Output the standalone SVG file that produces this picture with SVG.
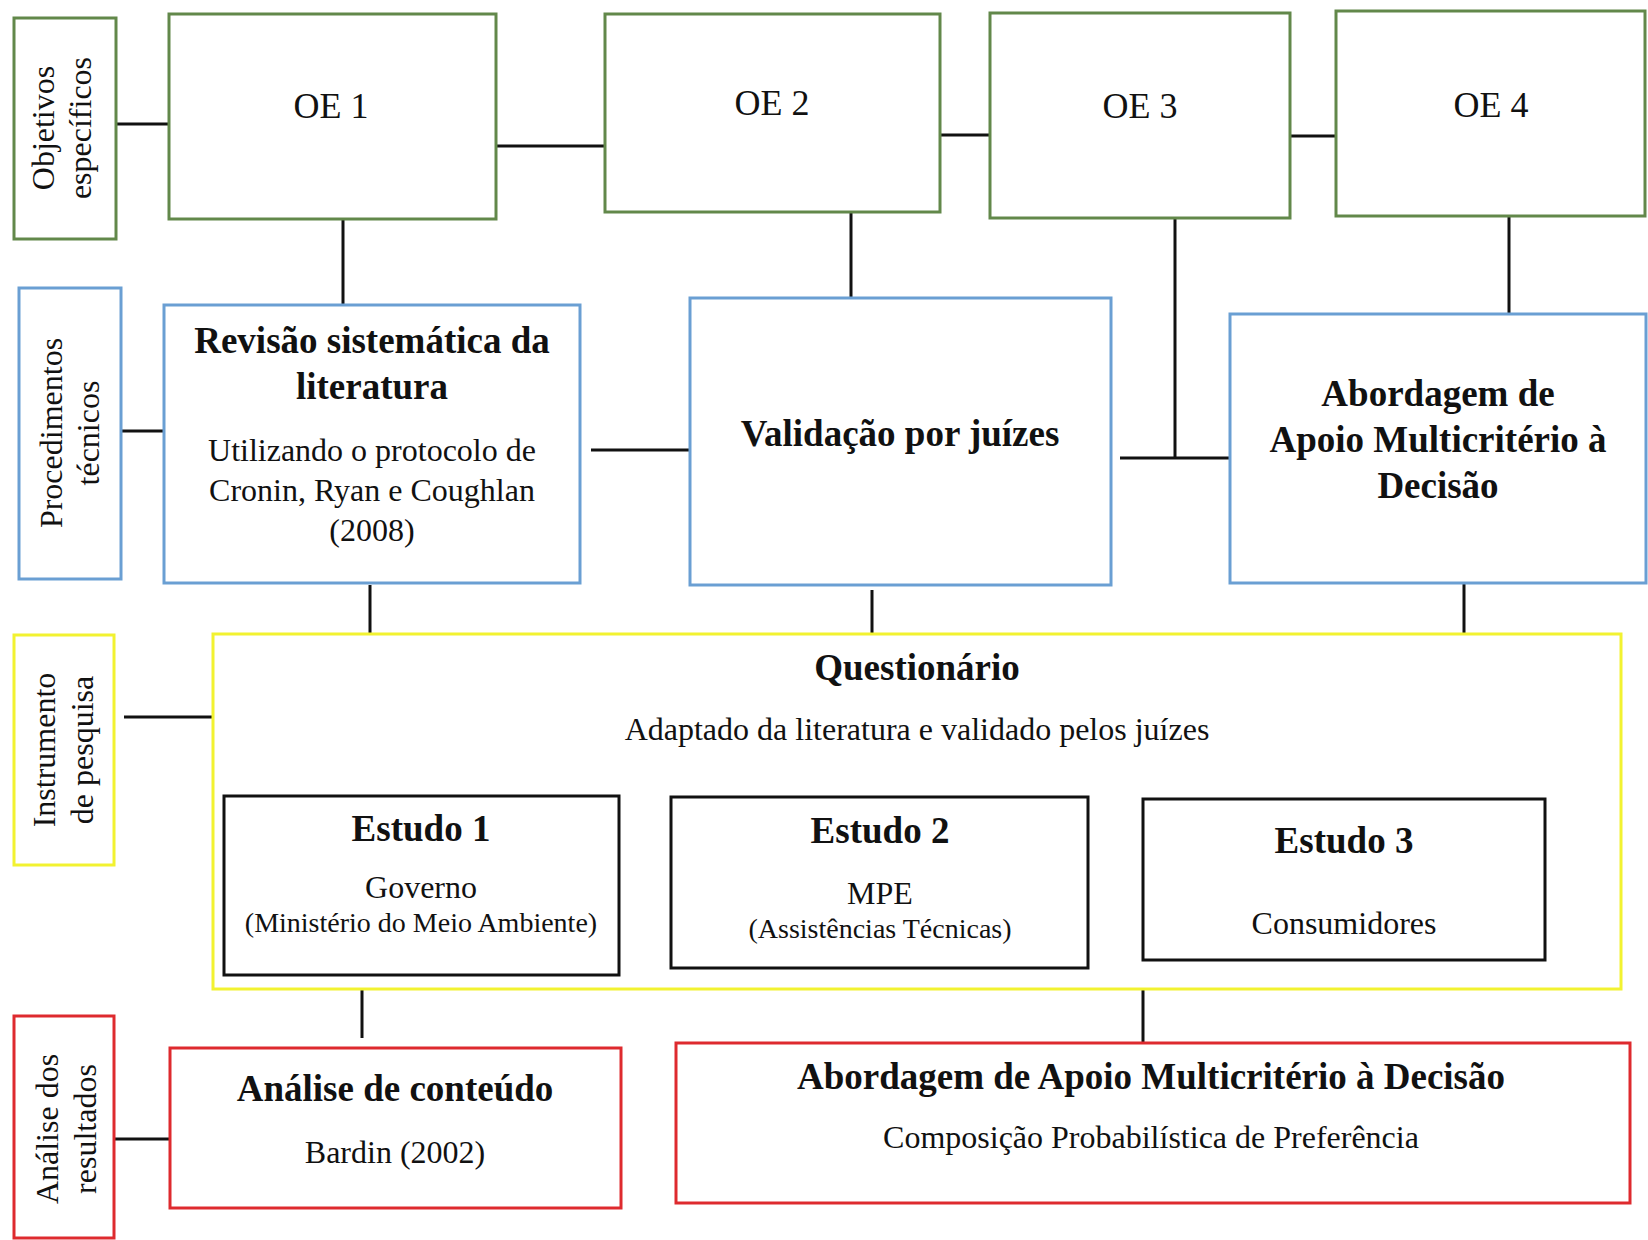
<svg xmlns="http://www.w3.org/2000/svg" width="1648" height="1240" viewBox="0 0 1648 1240">
  <style>
    text { font-family: "Liberation Serif", "Times New Roman", serif; fill: #111; text-anchor: middle; }
    .oe { font-size: 36px; }
    .side { font-size: 32px; }
    .h { font-size: 37px; font-weight: bold; }
    .b { font-size: 32px; }
    .s { font-size: 28px; }
    rect { fill: #fff; stroke-width: 3; }
    .green rect { stroke: #62884a; }
    .blue rect { stroke: #6a9fd3; }
    .yellow rect { stroke: #f2f230; }
    .red rect { stroke: #de2a2e; }
    .black rect { stroke: #111; }
    #connectors line { stroke: #111; stroke-width: 3; }
  </style>
  <rect x="0" y="0" width="1648" height="1240" style="fill:#fff;stroke:none"/>

  <!-- connectors -->
  <g id="connectors">
    <line x1="116" y1="124" x2="169" y2="124"/>
    <line x1="496" y1="146" x2="605" y2="146"/>
    <line x1="940" y1="135" x2="990" y2="135"/>
    <line x1="1290" y1="136" x2="1336" y2="136"/>
    <line x1="343" y1="219" x2="343" y2="305"/>
    <line x1="851" y1="212" x2="851" y2="298"/>
    <line x1="1175" y1="218" x2="1175" y2="457"/>
    <line x1="1509" y1="216" x2="1509" y2="314"/>
    <line x1="121" y1="431" x2="164" y2="431"/>
    <line x1="591" y1="450" x2="690" y2="450"/>
    <line x1="1120" y1="458" x2="1230" y2="458"/>
    <line x1="370" y1="585" x2="370" y2="634"/>
    <line x1="872" y1="590" x2="872" y2="634"/>
    <line x1="1464" y1="583" x2="1464" y2="634"/>
    <line x1="124" y1="717" x2="213" y2="717"/>
    <line x1="362" y1="990" x2="362" y2="1038"/>
    <line x1="1143" y1="990" x2="1143" y2="1043"/>
    <line x1="114" y1="1139" x2="170" y2="1139"/>
  </g>

  <!-- specific objectives -->
  <g class="green">
    <g id="objetivos">
      <rect x="14" y="18" width="102" height="221"/>
      <text class="side" transform="translate(54,128) rotate(-90)">Objetivos</text>
      <text class="side" transform="translate(91,128) rotate(-90)">específicos</text>
    </g>
    <g id="oe1">
      <rect x="169" y="14" width="327" height="205"/>
      <text class="oe" x="331" y="118">OE 1</text>
    </g>
    <g id="oe2">
      <rect x="605" y="14" width="335" height="198"/>
      <text class="oe" x="772" y="115">OE 2</text>
    </g>
    <g id="oe3">
      <rect x="990" y="13" width="300" height="205"/>
      <text class="oe" x="1140" y="118">OE 3</text>
    </g>
    <g id="oe4">
      <rect x="1336" y="11" width="309" height="205"/>
      <text class="oe" x="1491" y="117">OE 4</text>
    </g>
  </g>

  <!-- technical procedures -->
  <g class="blue">
    <g id="procedimentos">
      <rect x="19" y="288" width="102" height="291"/>
      <text class="side" transform="translate(62,433) rotate(-90)">Procedimentos</text>
      <text class="side" transform="translate(99,433) rotate(-90)">técnicos</text>
    </g>
    <g id="revisao">
      <rect x="164" y="305" width="416" height="278"/>
      <text class="h" x="372" y="353">Revisão sistemática da</text>
      <text class="h" x="372" y="399">literatura</text>
      <text class="b" x="372" y="461">Utilizando o protocolo de</text>
      <text class="b" x="372" y="501">Cronin, Ryan e Coughlan</text>
      <text class="b" x="372" y="541">(2008)</text>
    </g>
    <g id="validacao">
      <rect x="690" y="298" width="421" height="287"/>
      <text class="h" x="900" y="446">Validação por juízes</text>
    </g>
    <g id="abordagem-proc">
      <rect x="1230" y="314" width="416" height="269"/>
      <text class="h" x="1438" y="406">Abordagem de</text>
      <text class="h" x="1438" y="452">Apoio Multicritério à</text>
      <text class="h" x="1438" y="498">Decisão</text>
    </g>
  </g>

  <!-- research instrument -->
  <g class="yellow">
    <g id="instrumento">
      <rect x="14" y="635" width="100" height="230"/>
      <text class="side" transform="translate(55,750) rotate(-90)">Instrumento</text>
      <text class="side" transform="translate(93,750) rotate(-90)">de pesquisa</text>
    </g>
    <g id="questionario">
      <rect x="213" y="634" width="1408" height="355"/>
      <text class="h" x="917" y="680">Questionário</text>
      <text class="b" x="917" y="740">Adaptado da literatura e validado pelos juízes</text>
    </g>
  </g>
  <g class="black">
    <g id="estudo1">
      <rect x="224" y="796" width="395" height="179"/>
      <text class="h" x="421" y="841">Estudo 1</text>
      <text class="b" x="421" y="898">Governo</text>
      <text class="s" x="421" y="932">(Ministério do Meio Ambiente)</text>
    </g>
    <g id="estudo2">
      <rect x="671" y="797" width="417" height="171"/>
      <text class="h" x="880" y="843">Estudo 2</text>
      <text class="b" x="880" y="904">MPE</text>
      <text class="s" x="880" y="938">(Assistências Técnicas)</text>
    </g>
    <g id="estudo3">
      <rect x="1143" y="799" width="402" height="161"/>
      <text class="h" x="1344" y="853">Estudo 3</text>
      <text class="b" x="1344" y="934">Consumidores</text>
    </g>
  </g>

  <!-- results analysis -->
  <g class="red">
    <g id="analise-resultados">
      <rect x="14" y="1016" width="100" height="222"/>
      <text class="side" transform="translate(58,1129) rotate(-90)">Análise dos</text>
      <text class="side" transform="translate(96,1129) rotate(-90)">resultados</text>
    </g>
    <g id="analise-conteudo">
      <rect x="170" y="1048" width="451" height="160"/>
      <text class="h" x="395" y="1101">Análise de conteúdo</text>
      <text class="b" x="395" y="1163">Bardin (2002)</text>
    </g>
    <g id="abordagem-analise">
      <rect x="676" y="1043" width="954" height="160"/>
      <text class="h" x="1151" y="1089">Abordagem de Apoio Multicritério à Decisão</text>
      <text class="b" x="1151" y="1148">Composição Probabilística de Preferência</text>
    </g>
  </g>
</svg>
